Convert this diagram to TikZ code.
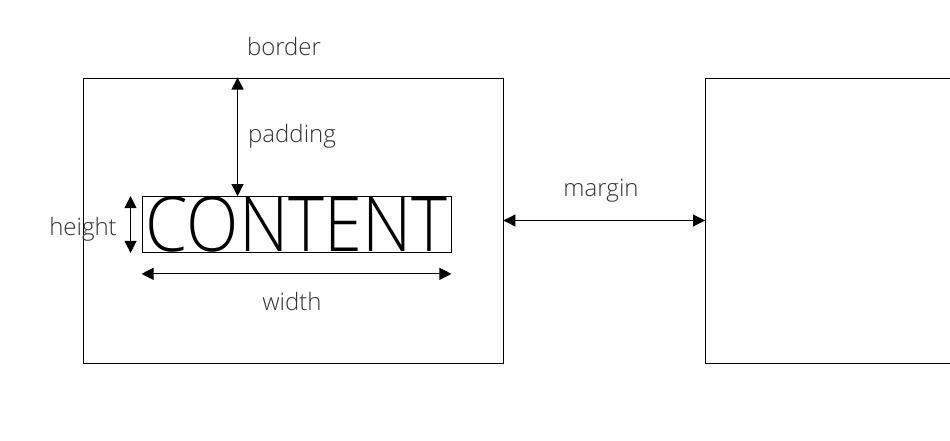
\documentclass[tikz,border=0pt]{standalone}
\usepackage{fontspec}
\setmainfont{Open Sans Light}
\usetikzlibrary{arrows.meta,positioning}
\definecolor{labelgray}{RGB}{51,51,51}

\begin{document}
\begin{tikzpicture}[x=1pt, y=-1pt]
    \tikzstyle{boxframe} = [draw=black, line width=0.9pt, inner sep=0pt]
    \tikzstyle{dimarrow} = [line width=1.1pt, {Triangle[length=12pt,width=12pt]}-{Triangle[length=12pt,width=12pt]}]
    \tikzstyle{lbl} = [font=\fontsize{24}{27}\selectfont, text=labelgray, inner sep=0pt]

    \useasboundingbox (0,0) rectangle (950,440);
    \clip (0,0) rectangle (950,440);

    \node[boxframe, minimum width=420pt, minimum height=285pt] (box1) at (293,220.5) {};
    \node[boxframe, minimum width=300pt, minimum height=285pt, anchor=west] (box2) at (705,220.5) {};
    \node[boxframe, minimum width=309pt, minimum height=55pt] (content) at (296.5,224.5)
        {\scalebox{0.9}[1]{\fontsize{76}{76}\selectfont\raisebox{-1.5pt}{CONTENT}}};

    \node[lbl] (border) at (284,46) {border};
    \node[lbl, anchor=west] (padding) at (248,136) {padding};
    \node[lbl] (height) at (83,229) {height};
    \node[lbl] (width) at (292,301) {width};
    \node[lbl] (margin) at (601,191) {margin};

    \draw[dimarrow] ([xshift=96pt]content.north west |- box1.north) -- ([xshift=96pt]content.north west);
    \draw[dimarrow] ([xshift=-11pt]content.north west) -- ([xshift=-11pt]content.south west);
    \draw[dimarrow] ([yshift=-21pt]content.south west) -- ([yshift=-21pt]content.south east);
    \draw[dimarrow] (box1.east) -- (box2.west);
\end{tikzpicture}
\end{document}
